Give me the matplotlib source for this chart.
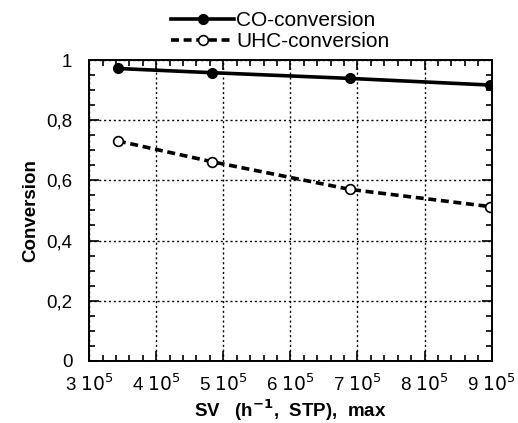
import numpy as np
import matplotlib.pyplot as plt
from matplotlib.ticker import MultipleLocator, FuncFormatter

plt.rcParams['font.family'] = ['Liberation Sans', 'DejaVu Sans']

# space velocity (h-1) and conversions
sv = [3.43e5, 4.83e5, 6.89e5, 8.97e5]
co_conv = [0.972, 0.958, 0.939, 0.917]
uhc_conv = [0.731, 0.662, 0.570, 0.513]

fig = plt.figure(figsize=(5.18, 4.23), dpi=100)
ax = fig.add_axes([0.172, 0.147, 0.777, 0.711])

ax.plot(sv, co_conv, '-', color='black', lw=2.6, marker='o', ms=7,
        mfc='black', mec='black', label='CO-conversion')
ax.plot(sv, uhc_conv, '--', color='black', lw=2.6, dashes=(2.2, 1.3),
        marker='o', ms=7, mfc='white', mec='black', mew=1.2,
        label='UHC-conversion')

ax.set_xlim(3e5, 9e5)
ax.set_ylim(0, 1)

ax.xaxis.set_major_locator(MultipleLocator(1e5))
ax.xaxis.set_minor_locator(MultipleLocator(0.2e5))
ax.yaxis.set_major_locator(MultipleLocator(0.2))
ax.yaxis.set_minor_locator(MultipleLocator(0.05))

ax.xaxis.set_major_formatter(FuncFormatter(
    lambda v, p: '%d $10^5$' % round(v / 1e5)))
ax.yaxis.set_major_formatter(FuncFormatter(
    lambda v, p: ('%g' % round(v, 1)).replace('.', ',')))

ax.tick_params(which='both', direction='in', top=True, right=True,
               labelsize=13.5, width=1.2)
ax.tick_params(which='major', length=7)
ax.tick_params(which='minor', length=4)
ax.tick_params(axis='x', pad=9)
ax.tick_params(axis='y', pad=12)

ax.grid(True, which='major', ls=(0, (1.5, 2)), color='black', lw=1.0)

for s in ax.spines.values():
    s.set_linewidth(1.4)

ax.set_ylabel('Conversion', fontsize=13.5, fontweight='bold', labelpad=5)
ax.set_xlabel('SV   (h$^{\\mathbf{-1}}$,  STP),  max', fontsize=13.5,
              fontweight='bold', labelpad=2)

ax.legend(loc='lower center', bbox_to_anchor=(0.475, 0.995), frameon=False,
          fontsize=15, handlelength=3.0, handletextpad=0.1,
          labelspacing=0.1, borderaxespad=0.1)

fig.savefig('out.png', dpi=100)
